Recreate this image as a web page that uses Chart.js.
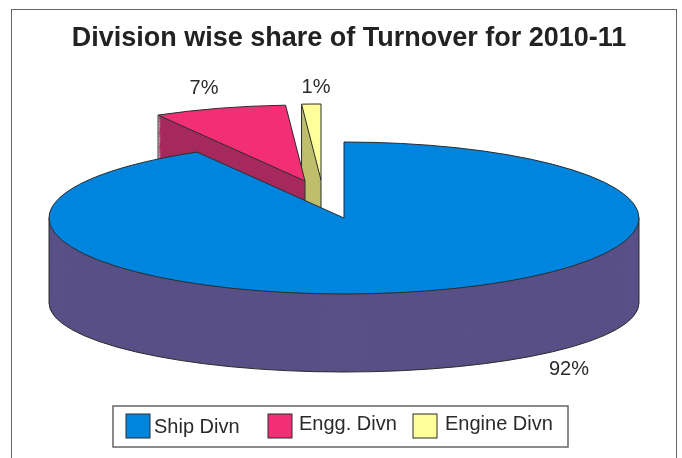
<!DOCTYPE html>
<html>
<head>
<meta charset="utf-8">
<title>Division wise share of Turnover for 2010-11</title>
<script src="https://cdn.jsdelivr.net/npm/chart.js@4"></script>
<style>
  html, body { margin: 0; height: 100%; background: #fff; overflow: hidden; }
  #frame { position: absolute; left: 11px; top: 9px; width: 664px; height: 470px; border: 1.5px solid #666; box-sizing: content-box; }
  canvas { position: absolute; left: 0; top: 0; }
</style>
</head>
<body>
<div id="frame"></div>
<canvas id="chart" width="698" height="458" style="width:698px;height:458px"></canvas>
<script>
const chartTitle = 'Division wise share of Turnover for 2010-11'
const divisions = ['Ship Divn', 'Engg. Divn', 'Engine Divn']
const shares = [91.7, 7.25, 1.05]

const topColors = ['#0085de', '#f22f74', '#ffff99']
const wallColors = ['#585086', '#a62a5e', '#bfbf6c']
const edgeColor = '#2c2c2c'
const textColor = '#2a2a2a'

// where each slice's tip lands on the page (exploded slices sit apart)
const tips = [{ x: 344, y: 218 }, { x: 305, y: 181 }, { x: 321, y: 180 }]
const labelSpots = [{ x: 569, y: 369 }, { x: 204, y: 88 }, { x: 316, y: 87 }]
const legendBox = { x: 113, y: 406, w: 455, h: 41 }
const legendSwatches = [126, 268, 413]
const legendTexts = [154, 299, 445]

const RX = 295
const RY = 76
const DEPTH = 85
const BOTTOM_RY = 69 // lower rim looks flatter than the top face
const drawOrder = [2, 1, 0]

const ryAt = (dy) => RY + (BOTTOM_RY - RY) * dy / DEPTH

function tilt(ctx, arc, tip, dy) {
  ctx.translate(tip.x, tip.y + dy)
  ctx.scale(RX / arc.outerRadius, ryAt(dy) / arc.outerRadius)
  ctx.translate(-arc.x, -arc.y)
}

function fillSlice(ctx, arc, tip, dy, color) {
  const flat = Object.create(arc)
  flat.options = {
    backgroundColor: color, borderColor: color, borderWidth: 0, borderRadius: 0,
    spacing: 0, offset: 0, circular: true, borderAlign: 'center'
  }
  ctx.save()
  tilt(ctx, arc, tip, dy)
  flat.draw(ctx)
  ctx.restore()
}

function outlineTop(ctx, arc, tip) {
  ctx.save()
  ctx.beginPath()
  ctx.save()
  tilt(ctx, arc, tip, 0)
  ctx.moveTo(arc.x, arc.y)
  ctx.arc(arc.x, arc.y, arc.outerRadius, arc.startAngle, arc.endAngle)
  ctx.closePath()
  ctx.restore()
  ctx.lineWidth = 1
  ctx.strokeStyle = edgeColor
  ctx.stroke()
  ctx.restore()
}

function outlineWall(ctx, arc, tip) {
  const rimX = tip.x + Math.cos(arc.startAngle) * RX
  const rimY = tip.y + Math.sin(arc.startAngle) * RY
  ctx.save()
  ctx.beginPath()
  ctx.moveTo(rimX, rimY)
  ctx.lineTo(rimX, rimY + DEPTH)
  ctx.moveTo(tip.x, tip.y)
  ctx.lineTo(tip.x, tip.y + DEPTH)
  ctx.lineWidth = 1
  ctx.strokeStyle = edgeColor
  ctx.stroke()
  ctx.restore()
}

const tiltedPie = {
  id: 'tiltedPie',
  beforeDatasetDraw(chart, args) {
    const { ctx } = chart
    const arcs = args.meta.data
    drawOrder.forEach((i) => {
      for (let d = DEPTH; d > 0; d--) fillSlice(ctx, arcs[i], tips[i], d, wallColors[i])
      if (i > 0) outlineWall(ctx, arcs[i], tips[i])
      if (i === 0) {
        // outer silhouette of the big slice
        ctx.save()
        ctx.beginPath()
        ctx.ellipse(tips[0].x, tips[0].y + DEPTH, RX, BOTTOM_RY, 0, 0, Math.PI)
        ctx.moveTo(tips[0].x - RX, tips[0].y)
        ctx.lineTo(tips[0].x - RX, tips[0].y + DEPTH)
        ctx.moveTo(tips[0].x + RX, tips[0].y)
        ctx.lineTo(tips[0].x + RX, tips[0].y + DEPTH)
        ctx.lineWidth = 1
        ctx.strokeStyle = edgeColor
        ctx.stroke()
        ctx.restore()
      }
      fillSlice(ctx, arcs[i], tips[i], 0, topColors[i])
      outlineTop(ctx, arcs[i], tips[i])
    })
    return false
  },
  afterDraw(chart) {
    const { ctx } = chart
    const total = shares.reduce((a, b) => a + b, 0)
    ctx.save()
    ctx.fillStyle = textColor
    ctx.font = '20px "Liberation Sans"'
    ctx.textAlign = 'center'
    ctx.textBaseline = 'middle'
    shares.forEach((v, i) => {
      ctx.fillText(Math.round(v / total * 100) + '%', labelSpots[i].x, labelSpots[i].y)
    })

    ctx.fillStyle = '#fff'
    ctx.strokeStyle = '#666'
    ctx.lineWidth = 1.5
    ctx.fillRect(legendBox.x, legendBox.y, legendBox.w, legendBox.h)
    ctx.strokeRect(legendBox.x, legendBox.y, legendBox.w, legendBox.h)
    ctx.textAlign = 'left'
    divisions.forEach((name, i) => {
      ctx.fillStyle = topColors[i]
      ctx.fillRect(legendSwatches[i], 414, 24, 24)
      ctx.strokeStyle = edgeColor
      ctx.lineWidth = 1
      ctx.strokeRect(legendSwatches[i], 414, 24, 24)
      ctx.fillStyle = textColor
      ctx.font = '20px "Liberation Sans"'
      ctx.fillText(name, legendTexts[i], i === 0 ? 427 : 424)
    })
    ctx.restore()
  }
}

new Chart(document.getElementById('chart'), {
  type: 'pie',
  data: {
    labels: divisions,
    datasets: [{ data: shares, backgroundColor: topColors, borderWidth: 0 }]
  },
  plugins: [tiltedPie],
  options: {
    responsive: false,
    animation: false,
    plugins: {
      legend: { display: false },
      tooltip: { enabled: false },
      title: {
        display: true,
        text: chartTitle,
        color: '#222',
        font: { family: '"Liberation Sans"', size: 27, weight: 'bold' },
        padding: { top: 22, bottom: 10 }
      }
    }
  }
})
</script>
</body>
</html>
